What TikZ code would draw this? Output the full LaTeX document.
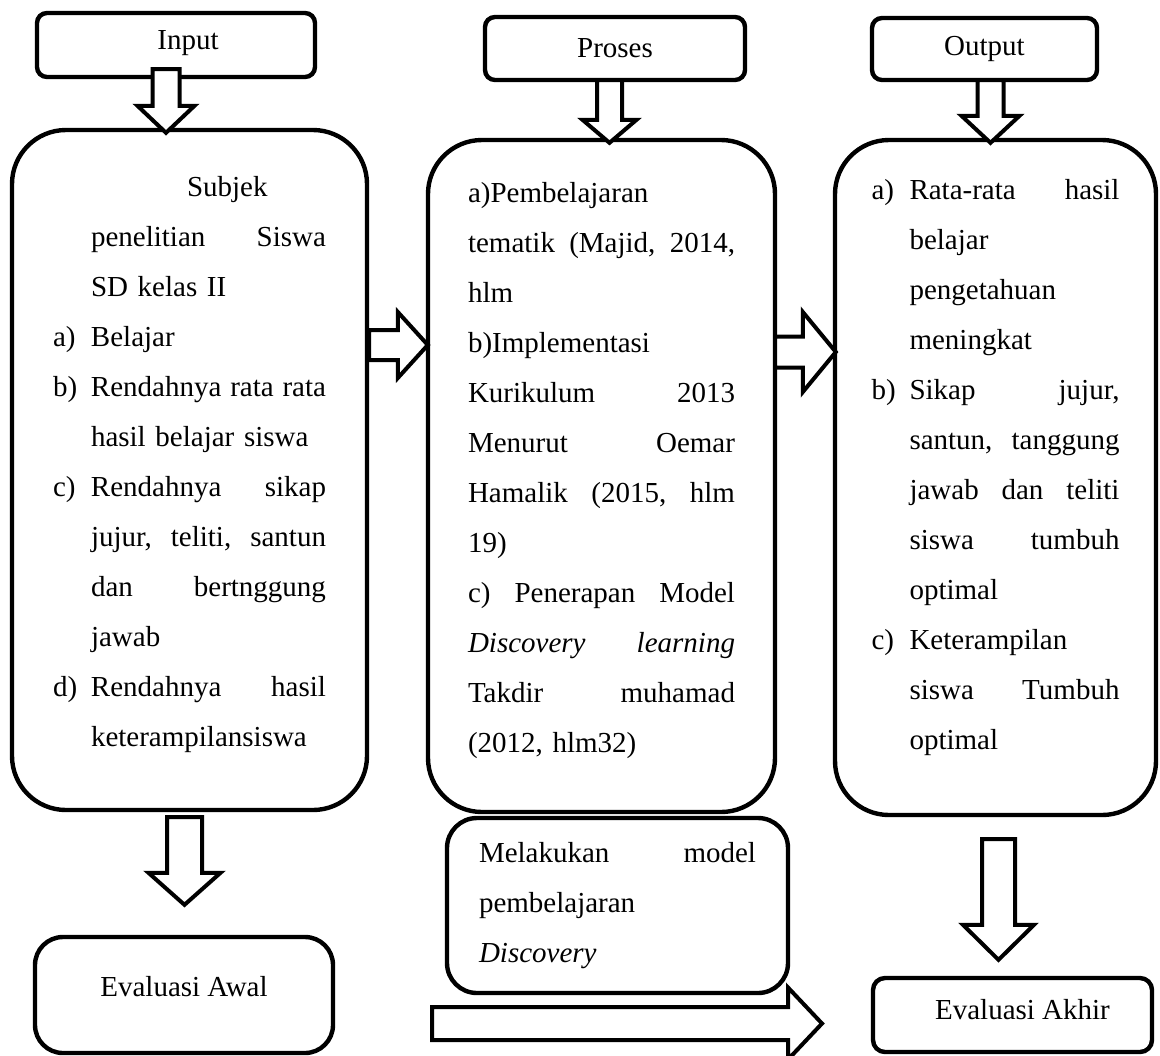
\documentclass[tikz,border=0pt]{standalone}
\usepackage{fontspec}
\setmainfont{Liberation Serif}
\usetikzlibrary{calc}
\tikzstyle{smallbox}=[draw,line width=2.2pt,rounded corners=5pt,inner sep=0pt,font=\fontsize{14.5}{25}\selectfont]
\tikzstyle{bigbox}=[draw,line width=2.2pt,rounded corners=27pt,inner sep=0pt,align=left,font=\fontsize{14.5}{25}\selectfont]
\tikzstyle{fat}=[draw,fill=white,line width=2pt,line join=miter]
\newcommand{\lbl}[1]{\makebox[19pt][l]{#1}}
\newcommand{\ind}{\hspace*{19pt}}
% block arrows: start, tip, shaft half, head half, head length (in px)
\newcommand{\fatdown}[5]{%
  \path[fat] let \p1=(#1), \p2=(#2) in
    (\x1-#3*0.5pt,\y1) -- (\x1-#3*0.5pt,\y2+#5*0.5pt) -- (\x1-#4*0.5pt,\y2+#5*0.5pt)
    -- (\x1,\y2) -- (\x1+#4*0.5pt,\y2+#5*0.5pt) -- (\x1+#3*0.5pt,\y2+#5*0.5pt)
    -- (\x1+#3*0.5pt,\y1) -- cycle;}
\newcommand{\fatright}[5]{%
  \path[fat] let \p1=(#1), \p2=(#2) in
    (\x1,\y1+#3*0.5pt) -- (\x2-#5*0.5pt,\y1+#3*0.5pt) -- (\x2-#5*0.5pt,\y1+#4*0.5pt)
    -- (\x2,\y1) -- (\x2-#5*0.5pt,\y1-#4*0.5pt) -- (\x2-#5*0.5pt,\y1-#3*0.5pt)
    -- (\x1,\y1-#3*0.5pt) -- cycle;}
\begin{document}
\begin{tikzpicture}[x=0.5pt,y=-0.5pt]
\clip (0,0) rectangle (1160,1055);
% headers
\node[smallbox,minimum width=139pt,minimum height=32pt,text depth=5pt] (inp) at (176,45) {\hspace*{12pt}Input};
\node[smallbox,minimum width=130pt,minimum height=31.5pt] (pro) at (615,48.5) {Proses};
\node[smallbox,minimum width=112.5pt,minimum height=31pt] (out) at (984.5,49) {Output};
% main boxes
\node[bigbox,minimum width=177.5pt,minimum height=340pt,text width=136.5pt,text height=5pt] (sub) at (189.5,470) {%
\hspace*{67pt}Subjek\\
\ind penelitian\hfill Siswa\\
\ind SD kelas II\\
\lbl{a)}Belajar\\
\lbl{b)}Rendahnya\hfill rata\hfill rata\\
\ind hasil belajar siswa\\
\lbl{c)}Rendahnya\hfill sikap\\
\ind jujur,\hfill teliti,\hfill santun\\
\ind dan\hfill bertnggung\\
\ind jawab\\
\lbl{d)}Rendahnya\hfill hasil\\
\ind keterampilansiswa};
\node[bigbox,minimum width=173.5pt,minimum height=336pt,text width=133.5pt,text height=5pt] (teo) at (601.5,476) {%
a)Pembelajaran\\
tematik\hfill (Majid,\hfill 2014,\\
hlm\\
b)Implementasi\\
Kurikulum\hfill 2013\\
Menurut\hfill Oemar\\
Hamalik\hfill (2015,\hfill hlm\\
19)\\
c)\hfill Penerapan\hfill Model\\
\textit{Discovery}\hfill\textit{learning}\\
Takdir\hfill muhamad\\
(2012, hlm32)};
\node[bigbox,minimum width=160.5pt,minimum height=337.5pt,text width=124pt,text height=-2pt] (has) at (995.5,477.5) {%
\lbl{a)}Rata-rata\hfill hasil\\
\ind belajar\\
\ind pengetahuan\\
\ind meningkat\\
\lbl{b)}Sikap\hfill jujur,\\
\ind santun,\hfill tanggung\\
\ind jawab\hfill dan\hfill teliti\\
\ind siswa\hfill tumbuh\\
\ind optimal\\
\lbl{c)}Keterampilan\\
\ind siswa\hfill Tumbuh\\
\ind optimal};
\node[bigbox,rounded corners=15pt,minimum width=170.5pt,minimum height=87.5pt,text width=138.5pt] (mel) at (617.5,905.5) {%
Melakukan\hfill model\\
pembelajaran\\
\textit{Discovery}};
% evaluations
\node[smallbox,rounded corners=14pt,minimum width=149pt,minimum height=58pt,text depth=9pt] (awal) at (184,995) {Evaluasi Awal};
\node[smallbox,rounded corners=6pt,minimum width=139.5pt,minimum height=37pt,text depth=6pt] (akhir) at (1012.5,1015) {\hspace*{10pt}Evaluasi Akhir};
\coordinate (bs) at (432,1023.5);
\coordinate (be) at (822,1023.5);
% arrows
\fatdown{[xshift=-5pt,yshift=5pt]inp.south}{[yshift=-2.5pt]sub.north}{13.5}{28.5}{27}
\fatdown{[xshift=-2.75pt,yshift=1pt]pro.south}{[yshift=-2.5pt]teo.north}{12.5}{27}{23}
\fatdown{[xshift=3pt,yshift=1pt]out.south}{[yshift=-2.5pt]has.north}{13}{29}{27}
\fatright{[yshift=62.5pt]sub.east}{[xshift=1pt]teo.west}{15}{33}{30}
\fatright{[yshift=62pt,xshift=-1pt]teo.east}{[xshift=1.5pt]has.west}{15.5}{40}{33}
\fatdown{[xshift=-2.5pt,yshift=-2.5pt]sub.south}{[yshift=15pt]awal.north}{17.5}{36}{32}
\fatdown{[xshift=1.5pt,yshift=-11pt]has.south}{[yshift=8pt]akhir.north}{16.5}{35.5}{35}
\fatright{bs}{be}{16.5}{36}{34}
\end{tikzpicture}
\end{document}
